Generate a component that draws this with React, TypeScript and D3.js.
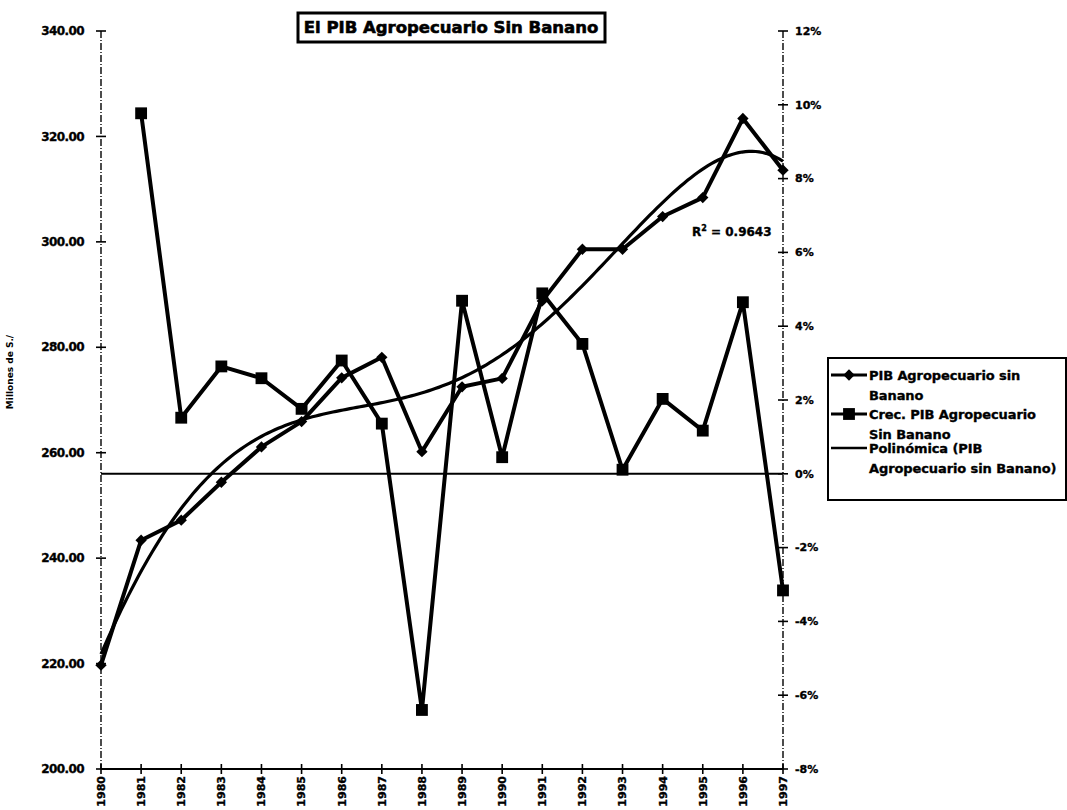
import React from 'react';
import * as d3 from 'd3';

const years = ['1980', '1981', '1982', '1983', '1984', '1985', '1986', '1987', '1988',
  '1989', '1990', '1991', '1992', '1993', '1994', '1995', '1996', '1997'];
// PIB agropecuario sin banano, millones de S/. (left axis)
const pib = [219.7, 243.4, 247.2, 254.4, 261.1, 265.9, 274.2, 278.1, 260.2,
  272.5, 274.1, 288.8, 298.6, 298.6, 304.8, 308.4, 323.4, 313.6];
// growth %, starts in 1981 (right axis)
const growthYears = years.slice(1);
const growth = [9.77, 1.52, 2.91, 2.59, 1.76, 3.07, 1.36, -6.4, 4.69,
  0.45, 4.89, 3.52, 0.11, 2.03, 1.17, 4.65, -3.16];

const leftTicks = [200, 220, 240, 260, 280, 300, 320, 340];
const rightTicks = [-8, -6, -4, -2, 0, 2, 4, 6, 8, 10, 12];
const r2Label = '0.9643';

const FONT = '"DejaVu Sans", sans-serif';

// least squares polynomial (the Excel "Polinómica" trendline)
function polyFit(xs: number[], ys: number[], deg: number) {
  const n = deg + 1;
  const A = Array.from({ length: n }, () => new Array(n + 1).fill(0));
  xs.forEach((x, k) => {
    for (let i = 0; i < n; i++) {
      for (let j = 0; j < n; j++) A[i][j] += Math.pow(x, i + j);
      A[i][n] += ys[k] * Math.pow(x, i);
    }
  });
  for (let c = 0; c < n; c++) {
    let p = c;
    for (let r = c + 1; r < n; r++) if (Math.abs(A[r][c]) > Math.abs(A[p][c])) p = r;
    [A[c], A[p]] = [A[p], A[c]];
    for (let r = 0; r < n; r++) {
      if (r === c) continue;
      const f = A[r][c] / A[c][c];
      for (let j = c; j <= n; j++) A[r][j] -= f * A[c][j];
    }
  }
  const coef = A.map((row, i) => row[n] / row[i]);
  return (x: number) => coef.reduce((s, a, i) => s + a * Math.pow(x, i), 0);
}

function App() {
  const left = 101, right = 783, top = 31, bottom = 769;

  const x = d3.scalePoint<string>().domain(years).range([left, right]);
  const yL = d3.scaleLinear().domain([200, 340]).range([bottom, top]);
  const yR = d3.scaleLinear().domain([-8, 12]).range([bottom, top]);

  const last = years.length - 1;
  const trend = polyFit(years.map((_, i) => i / last), pib, 6);
  const trendPts = d3.range(0, 1.0001, 0.005).map((t) => [
    left + t * (right - left),
    yL(trend(t)),
  ] as [number, number]);

  const line = d3.line<[number, number]>();
  const pibPath = line(years.map((yr, i) => [x(yr)!, yL(pib[i])]));
  const growthPath = line(growthYears.map((yr, i) => [x(yr)!, yR(growth[i])]));

  const diamond = d3.symbol(d3.symbolSquare, 64)()!;
  const square = d3.symbol(d3.symbolSquare, 140)()!;

  const axisStroke = { stroke: '#000', strokeWidth: 1.4, strokeDasharray: '7,2,1,2' };
  const heavy = { stroke: '#000', strokeWidth: 0.35 };

  const legendItems = [
    { y: 375, lines: ['PIB Agropecuario sin', 'Banano'], mark: 'diamond' },
    { y: 414, lines: ['Crec. PIB Agropecuario', 'Sin Banano'], mark: 'square' },
    { y: 448, lines: ['Polinómica (PIB', 'Agropecuario sin Banano)'], mark: 'none' },
  ];

  return (
    <svg width={1067} height={810} style={{ position: 'absolute', left: 0, top: 0, background: '#fff' }}
      fontFamily={FONT} fontWeight="bold">
      <rect width={1067} height={810} fill="#fff" />

      {/* title */}
      <rect x={298} y={13} width={307} height={29} fill="#fff" stroke="#000" strokeWidth={3} />
      <text x={451} y={33} textAnchor="middle" fontSize={16.5} {...heavy} strokeWidth={0.6}>
        El PIB Agropecuario Sin Banano
      </text>

      {/* axes */}
      <line x1={left} x2={left} y1={top} y2={bottom} {...axisStroke} />
      <line x1={right} x2={right} y1={top} y2={bottom} {...axisStroke} />
      <line x1={left} x2={right} y1={bottom} y2={bottom} stroke="#000" strokeWidth={2} />

      {leftTicks.map((v) => (
        <g key={'l' + v}>
          <line x1={left - 5} x2={left + 5} y1={yL(v)} y2={yL(v)} stroke="#000" strokeWidth={1.6} />
          <text x={84} y={yL(v)} dy="0.35em" textAnchor="end" fontSize={12} letterSpacing={-0.6} {...heavy}>
            {d3.format('.2f')(v)}
          </text>
        </g>
      ))}
      {rightTicks.map((v) => (
        <g key={'r' + v}>
          <line x1={right - 5} x2={right + 5} y1={yR(v)} y2={yR(v)} stroke="#000" strokeWidth={1.6} />
          <text x={795} y={yR(v)} dy="0.35em" fontSize={11} {...heavy}>{v + '%'}</text>
        </g>
      ))}
      {years.map((yr) => (
        <g key={'x' + yr}>
          <line x1={x(yr)} x2={x(yr)} y1={bottom - 5} y2={bottom + 5} stroke="#000" strokeWidth={1.6} />
          <text transform={`translate(${x(yr)},776) rotate(-90)`} textAnchor="end" dy="0.35em" fontSize={11} {...heavy}>
            {yr}
          </text>
        </g>
      ))}

      <text transform={`translate(13,372) rotate(-90)`} textAnchor="middle" fontSize={9}>Millones de S./</text>

      {/* zero line of right axis */}
      <line x1={left} x2={right} y1={yR(0)} y2={yR(0)} stroke="#000" strokeWidth={2} />

      {/* trendline */}
      <path d={line(trendPts)!} fill="none" stroke="#000" strokeWidth={3.2} />

      {/* PIB series */}
      <path d={pibPath!} fill="none" stroke="#000" strokeWidth={4} strokeLinejoin="round" />
      {years.map((yr, i) => (
        <path key={'d' + yr} d={diamond} transform={`translate(${x(yr)},${yL(pib[i])}) rotate(45)`} fill="#000" />
      ))}

      {/* growth series */}
      <path d={growthPath!} fill="none" stroke="#000" strokeWidth={4} strokeLinejoin="round" />
      {growthYears.map((yr, i) => (
        <path key={'s' + yr} d={square} transform={`translate(${x(yr)},${yR(growth[i])})`} fill="#000" />
      ))}

      <text x={692} y={236} fontSize={12} {...heavy}>
        R<tspan dy={-5} fontSize={8}>2</tspan><tspan dy={5}>{' = ' + r2Label}</tspan>
      </text>

      {/* legend */}
      <rect x={828} y={358} width={238} height={142} fill="#fff" stroke="#000" strokeWidth={2} />
      {legendItems.map((it) => (
        <g key={it.lines[0]}>
          <line x1={831} x2={867} y1={it.y} y2={it.y} stroke="#000" strokeWidth={it.mark === 'none' ? 2.5 : 3} />
          {it.mark === 'diamond' && <path d={diamond} transform={`translate(849,${it.y}) rotate(45)`} fill="#000" />}
          {it.mark === 'square' && <path d={square} transform={`translate(849,${it.y})`} fill="#000" />}
          <text x={869} y={it.y} dy="0.35em" fontSize={13} letterSpacing={-0.1} {...heavy}>{it.lines[0]}</text>
          <text x={869} y={it.y + 20} dy="0.35em" fontSize={13} letterSpacing={-0.1} {...heavy}>{it.lines[1]}</text>
        </g>
      ))}
    </svg>
  );
}

export default App;
